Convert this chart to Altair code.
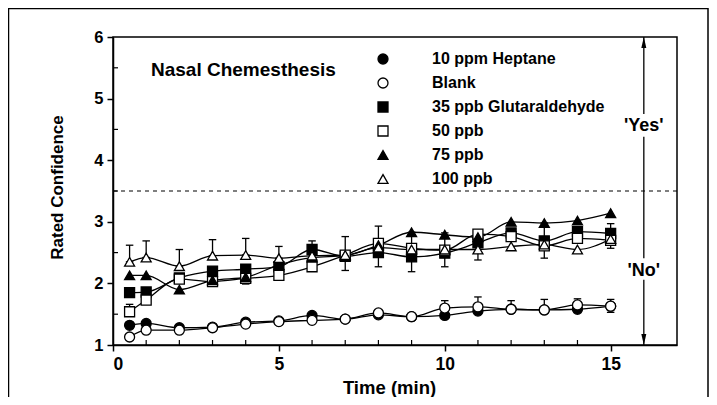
import altair as alt
import pandas as pd

# ---------------- data ----------------
time = [0.5, 1, 2, 3, 4, 5, 6, 7, 8, 9, 10, 11, 12, 13, 14, 15]
heptane = [1.32, 1.35, 1.28, 1.29, 1.37, 1.39, 1.48, 1.42, 1.49, 1.46, 1.48, 1.55, 1.58, 1.57, 1.58, 1.63]
blank = [1.13, 1.24, 1.24, 1.28, 1.34, 1.38, 1.40, 1.42, 1.52, 1.46, 1.60, 1.62, 1.58, 1.57, 1.65, 1.63]
glut35 = [1.85, 1.86, 2.09, 2.20, 2.23, 2.27, 2.55, 2.44, 2.50, 2.43, 2.49, 2.66, 2.82, 2.69, 2.84, 2.81]
ppb50 = [1.54, 1.73, 2.07, 2.03, 2.08, 2.13, 2.27, 2.46, 2.65, 2.57, 2.54, 2.80, 2.76, 2.61, 2.73, 2.70]
ppb75 = [2.13, 2.13, 1.90, 2.05, 2.10, 2.30, 2.42, 2.45, 2.62, 2.83, 2.79, 2.75, 3.00, 2.98, 3.02, 3.14]
ppb100 = [2.35, 2.42, 2.28, 2.45, 2.46, 2.41, 2.45, 2.46, 2.58, 2.55, 2.55, 2.55, 2.60, 2.63, 2.55, 2.72]

series_names = ["10 ppm Heptane", "Blank", "35 ppb Glutaraldehyde", "50 ppb", "75 ppb", "100 ppb"]
series_shapes = ["circle", "circle", "square", "square", "triangle-up", "triangle-up"]
series_fills = ["black", "white", "black", "white", "black", "white"]
series_strokes = ["black"] * 6

err_time = [0.5, 1, 2, 3, 4, 5, 6, 7, 8, 9, 10, 11, 13, 15, 0.5, 4,
            10, 11, 12, 13, 14, 15]
err_low = [2.35, 2.42, 2.28, 2.45, 2.46, 2.41, 2.55, 2.21, 2.27, 2.19, 2.27, 2.38, 2.41, 2.57, 1.54, 1.99,
           1.60, 1.62, 1.55, 1.56, 1.58, 1.53]
err_high = [2.62, 2.69, 2.55, 2.71, 2.73, 2.60, 2.69, 2.76, 2.93, 2.83, 2.82, 2.86, 2.98, 2.97, 1.66, 2.08,
            1.72, 1.78, 1.72, 1.74, 1.75, 1.74]

threshold = [3.5]
minor_y = [1.5, 2.5, 3.5, 4.5, 5.5]
minor_x = [1, 2, 3, 4, 6, 7, 8, 9, 11, 12, 13, 14]

arrow_x = [16, 16, 16]
arrow_lo = [1.0, 2.41, 4.75]
arrow_hi = [2.06, 4.38, 6.0]
answer_labels = ["'Yes'", "'No'"]
answer_y = [4.56, 2.20]
panel_title = ["Nasal Chemesthesis"]
panel_title_x = [3.93]
panel_title_y = [5.47]

# ---------------- tables ----------------
rows = []
for name, vals in zip(series_names, [heptane, blank, glut35, ppb50, ppb75, ppb100]):
    for t, v in zip(time, vals):
        rows.append({"series": name, "time": t, "value": v})
df = pd.DataFrame(rows)
err_df = pd.DataFrame({"time": err_time, "low": err_low, "high": err_high})

FONT = "Liberation Sans"
xscale = alt.Scale(domain=[0, 17], nice=False, zero=False)
yscale = alt.Scale(domain=[1, 6], nice=False, zero=False)

x_axis = alt.Axis(values=[0, 5, 10, 15], format="d", title="Time (min)", tickSize=6,
                  labelFontSize=17.5, labelFontWeight="bold", labelPadding=4,
                  titleFontSize=18.5, titleFontWeight="bold", titlePadding=6, titleX=276, grid=False)
y_axis = alt.Axis(values=[1, 2, 3, 4, 5, 6], format="d", title="Rated Confidence", tickSize=6,
                  labelFontSize=16.5, labelFontWeight="bold", labelPadding=4,
                  titleFontSize=17, titleFontWeight="bold", titlePadding=27, titleY=150, grid=False)


def X(field):
    return alt.X(field, type="quantitative", scale=xscale, axis=x_axis, title="Time (min)")


def Y(field):
    return alt.Y(field, type="quantitative", scale=yscale, axis=y_axis, title="Rated Confidence")


lines = alt.Chart(df).mark_line(interpolate="monotone", color="black", strokeWidth=1.3).encode(
    x=X("time"), y=Y("value"), detail="series:N",
)

err_rules = alt.Chart(err_df).mark_rule(color="black", strokeWidth=1.3).encode(
    x=X("time"), y=Y("low"), y2="high:Q",
)
cap_shape = "M-1,0L1,0"
err_caps_hi = alt.Chart(err_df).mark_point(shape=cap_shape, size=56, stroke="black", strokeWidth=1.3, opacity=1).encode(
    x=X("time"), y=Y("high"),
)
err_caps_lo = alt.Chart(err_df).mark_point(shape=cap_shape, size=56, stroke="black", strokeWidth=1.3, opacity=1).encode(
    x=X("time"), y=Y("low"),
)

legend = alt.Legend(title=None, orient="none", legendX=262, legendY=14, padding=0,
                    symbolSize=100, symbolStrokeColor="black", symbolStrokeWidth=1.3,
                    labelFontSize=16, labelFontWeight="bold", labelFont=FONT, labelLimit=400,
                    labelOffset=41, rowPadding=8, symbolOpacity=1)

points = alt.Chart(df).mark_point(filled=True, size=100, strokeWidth=1.3, opacity=1).encode(
    x=X("time"), y=Y("value"),
    shape=alt.Shape("series:N", scale=alt.Scale(domain=series_names, range=series_shapes), legend=legend),
    fill=alt.Fill("series:N", scale=alt.Scale(domain=series_names, range=series_fills), legend=legend),
    stroke=alt.Stroke("series:N", scale=alt.Scale(domain=series_names, range=series_strokes), legend=legend),
)

dash = alt.Chart(pd.DataFrame({"y": threshold})).mark_rule(color="black", strokeDash=[4, 4], strokeWidth=1.2).encode(
    y=Y("y")
)

minor_y_ticks = alt.Chart(pd.DataFrame({"y": minor_y})).mark_rule(color="black", strokeWidth=1.2).encode(
    y=Y("y"), x=alt.value(0), x2=alt.value(5)
)
minor_x_ticks = alt.Chart(pd.DataFrame({"x": minor_x})).mark_rule(color="black", strokeWidth=1.2).encode(
    x=X("x"), y=alt.value(308), y2=alt.value(303)
)

arrow_df = pd.DataFrame({"x": arrow_x, "lo": arrow_lo, "hi": arrow_hi})
arrow_lines = alt.Chart(arrow_df).mark_rule(color="black", strokeWidth=1.3).encode(
    x=X("x"), y=Y("lo"), y2="hi:Q",
)
head_up = alt.Chart(pd.DataFrame({"x": [arrow_x[0]], "y": [arrow_hi[-1]]})).mark_point(
    shape="M0,0L0.5,2.2L-0.5,2.2Z", size=100, filled=True, color="black", opacity=1
).encode(x=X("x"), y=Y("y"))
head_down = alt.Chart(pd.DataFrame({"x": [arrow_x[0]], "y": [arrow_lo[0]]})).mark_point(
    shape="M0,0L0.5,-2.2L-0.5,-2.2Z", size=100, filled=True, color="black", opacity=1
).encode(x=X("x"), y=Y("y"))

answers = alt.Chart(pd.DataFrame({"x": [arrow_x[0]] * 2, "y": answer_y, "t": answer_labels})).mark_text(
    font=FONT, fontSize=18, fontWeight="bold", color="black"
).encode(x=X("x"), y=Y("y"), text="t:N")

title_txt = alt.Chart(pd.DataFrame({"x": panel_title_x, "y": panel_title_y, "t": panel_title})).mark_text(
    font=FONT, fontSize=19, fontWeight="bold", color="black"
).encode(x=X("x"), y=Y("y"), text="t:N")

frame = alt.Chart(pd.DataFrame({"a": [0]})).mark_rect(fill=None, stroke="black", strokeWidth=1.5).encode(
    x=alt.value(-104.5), x2=alt.value(595), y=alt.value(-28.5), y2=alt.value(380)
)

chart = alt.layer(
    frame, dash, minor_y_ticks, minor_x_ticks, lines, err_rules, err_caps_hi, err_caps_lo, points,
    arrow_lines, head_up, head_down, answers, title_txt
).properties(
    width=564, height=308,
    autosize=alt.AutoSizeParams(type="none"),
    padding={"left": 105, "top": 29, "right": 32, "bottom": 52},
).configure_view(
    stroke="black", strokeWidth=1.5
).configure_axis(
    domainColor="black", domainWidth=1.5, tickColor="black", tickWidth=1.5,
    labelColor="black", titleColor="black", labelFont=FONT, titleFont=FONT,
)

chart.save("out.html", embed_options={"renderer": "svg", "actions": False})
